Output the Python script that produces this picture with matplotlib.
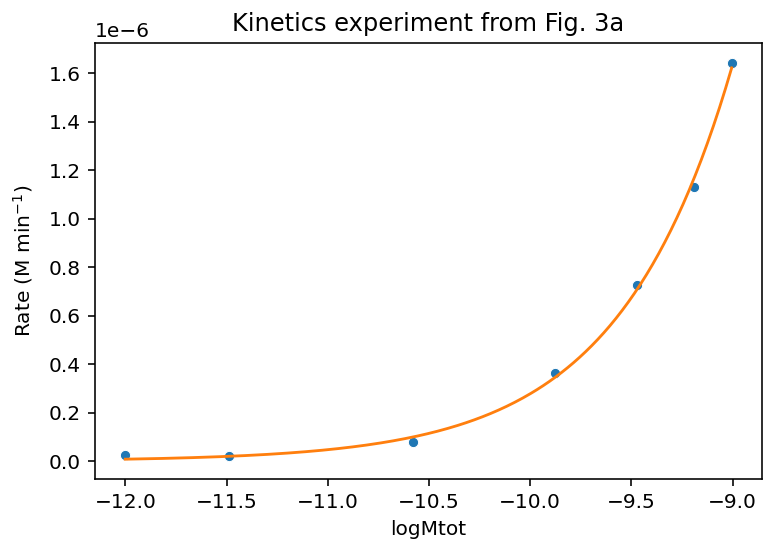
import matplotlib

matplotlib.use("Agg")
import matplotlib.pyplot as plt
import numpy as np

# measured rates vs log of total catalyst concentration
log_mtot = np.array([-12.0, -11.49, -10.58, -9.88, -9.475, -9.19, -9.005])
rate = np.array([0.024, 0.022, 0.080, 0.363, 0.725, 1.130, 1.644]) * 1e-6


def fit_power_law(x, y):
    # rate = k * Mtot**n, least squares weighted by 1/rate
    w = 1 / y
    best = None
    for n in np.linspace(0.3, 1.5, 2401):
        basis = 10 ** (n * (x - x.max()))
        k = (w * basis) @ y / ((w * basis) @ basis)
        sse = np.sum(w * (y - k * basis) ** 2)
        if best is None or sse < best[0]:
            best = (sse, k, n)
    return best[1], best[2]


k, n = fit_power_law(log_mtot, rate)
x_fit = np.linspace(log_mtot.min(), log_mtot.max(), 300)
y_fit = k * 10 ** (n * (x_fit - log_mtot.max()))

dpi = 145
fig = plt.figure(figsize=(763 / dpi, 543 / dpi), dpi=dpi)
ax = fig.add_axes([95 / 763, 64 / 543, 667 / 763, 436 / 543])

ax.scatter(log_mtot, rate, s=26, color="C0", edgecolor="white", linewidth=0.5, zorder=2)
ax.plot(x_fit, y_fit, color="C1", linewidth=1.4, zorder=3)

ax.set_title("Kinetics experiment from Fig. 3a")
ax.set_xlabel("logMtot")
ax.set_ylabel("Rate (M min$^{-1}$)", labelpad=7)
ax.set_xticks(np.arange(-12.0, -8.9, 0.5))
ax.set_yticks(np.arange(0, 1.7e-6, 0.2e-6))

fig.savefig("out.png", dpi=dpi)
